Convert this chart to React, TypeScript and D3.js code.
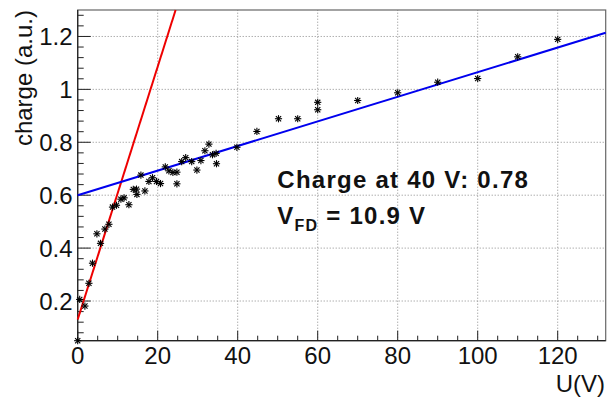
import React from "react";
import * as d3 from "d3";

// ---- data ----
const voltage: number[] = [
  0, 0.5, 1.8, 2.8, 3.7, 4.8, 5.7, 6.8, 7.8, 8.7, 9.7, 10.8, 11.6, 12.8, 13.9,
  14.7, 14.8, 15.8, 16.8, 17.8, 18.7, 19.7, 20.7, 21.9, 22.8, 23.8, 24.8, 24.8,
  26, 27, 28.5, 29.8, 30.8, 31.8, 32.8, 33.7, 34.6, 34.7, 39.8, 44.8, 50.2, 55,
  60, 60, 70, 80, 90, 100, 110, 120,
];
const charge: number[] = [
  0.05, 0.206, 0.181, 0.267, 0.343, 0.454, 0.418, 0.472, 0.49, 0.555, 0.562,
  0.585, 0.59, 0.564, 0.622, 0.623, 0.603, 0.676, 0.616, 0.652, 0.666, 0.652,
  0.644, 0.707, 0.692, 0.686, 0.687, 0.643, 0.727, 0.742, 0.727, 0.695, 0.731,
  0.768, 0.793, 0.753, 0.758, 0.719, 0.781, 0.841, 0.889, 0.889, 0.951, 0.923,
  0.958, 0.987, 1.027, 1.041, 1.123, 1.189,
];
// linear fits
const redFit = { intercept: 0.13, slope: 0.0478 };
const blueFit = { intercept: 0.6, slope: 0.00465 };

const xTicks: number[] = [0, 20, 40, 60, 80, 100, 120];
const yTicks: number[] = [0.2, 0.4, 0.6, 0.8, 1, 1.2];
const xDomain: [number, number] = [0, 132];
const yDomain: [number, number] = [0.05, 1.3];
const xLabel = "U(V)";
const yLabel = "charge (a.u.)";
const textLine1 = "Charge at 40 V: 0.78";
const vfdValue = "10.9";

const W = 608;
const H = 397;
const L = 77.7, R = 605.7, T = 10, B = 340.7;
const FONT = "'Liberation Sans', Arial, Helvetica, sans-serif";

export default function App() {
  const x = d3.scaleLinear().domain(xDomain).range([L, R]);
  const y = d3.scaleLinear().domain(yDomain).range([B, T]);

  const xMinor = d3.range(0, xDomain[1] + 0.001, 5).filter((v) => v % 20 !== 0);
  const yMinor = d3
    .range(0.08, yDomain[1] + 0.001, 0.04)
    .filter((v) => Math.abs(Math.round(v / 0.2) * 0.2 - v) > 0.001);

  const redEnd = (yDomain[1] - redFit.intercept) / redFit.slope;
  const lineGen = d3.line<[number, number]>().x((d) => x(d[0])).y((d) => y(d[1]));
  const redPath = lineGen([
    [0, redFit.intercept],
    [redEnd, yDomain[1]],
  ]);
  const bluePath = lineGen([
    [0, blueFit.intercept],
    [xDomain[1], blueFit.intercept + blueFit.slope * xDomain[1]],
  ]);

  const s = 3.6;
  const d = s * 0.72;

  return (
    <svg
      width={W}
      height={H}
      style={{ position: "absolute", left: 0, top: 0, background: "#fff" }}
      fontFamily={FONT}
    >
      <rect x={0} y={0} width={W} height={H} fill="#fff" />
      {/* grid */}
      <g stroke="#8a8a8a" strokeWidth={1} strokeDasharray="1,2">
        {xTicks.slice(1).map((t) => (
          <line key={"gx" + t} x1={x(t)} x2={x(t)} y1={B} y2={T} />
        ))}
        {yTicks.map((t) => (
          <line key={"gy" + t} x1={L} x2={R} y1={y(t)} y2={y(t)} />
        ))}
      </g>
      {/* frame */}
      <rect x={L} y={T} width={R - L} height={B - T} fill="none" stroke="#666" strokeWidth={1.2} />
      <line x1={L} x2={L} y1={T} y2={B} stroke="#222" strokeWidth={1.2} />
      <line x1={L} x2={R} y1={B} y2={B} stroke="#222" strokeWidth={1.2} />
      {/* ticks */}
      <g stroke="#222" strokeWidth={1}>
        {xTicks.map((t) => (
          <line key={"tx" + t} x1={x(t)} x2={x(t)} y1={B} y2={B - 10} />
        ))}
        {xMinor.map((t) => (
          <line key={"mx" + t} x1={x(t)} x2={x(t)} y1={B} y2={B - 5} />
        ))}
        {yTicks.map((t) => (
          <line key={"ty" + t} x1={L} x2={L + 13} y1={y(t)} y2={y(t)} />
        ))}
        {yMinor.map((t) => (
          <line key={"my" + t} x1={L} x2={L + 6} y1={y(t)} y2={y(t)} />
        ))}
      </g>
      {/* tick labels */}
      <g fontSize={24} fill="#111">
        {xTicks.map((t) => (
          <text key={"lx" + t} x={x(t)} y={364} textAnchor="middle">
            {d3.format("~g")(t)}
          </text>
        ))}
        {yTicks.map((t) => (
          <text key={"ly" + t} x={72.5} y={y(t)} dy="0.36em" textAnchor="end">
            {d3.format("~g")(t)}
          </text>
        ))}
      </g>
      {/* axis titles */}
      <text x={605} y={391.5} fontSize={24} textAnchor="end" fill="#111">
        {xLabel}
      </text>
      <text
        transform={`translate(31.5,10) rotate(-90)`}
        fontSize={24}
        textAnchor="end"
        fill="#111"
      >
        {yLabel}
      </text>
      {/* fits */}
      <path d={redPath ?? ""} stroke="#ee0000" strokeWidth={2} fill="none" />
      <path d={bluePath ?? ""} stroke="#0000ee" strokeWidth={2} fill="none" />
      {/* markers */}
      <g stroke="#000" strokeWidth={1.1}>
        {voltage.map((u, i) => {
          const cx = x(u);
          const cy = y(charge[i]);
          return (
            <g key={"p" + i}>
              <line x1={cx - s} x2={cx + s} y1={cy} y2={cy} />
              <line x1={cx} x2={cx} y1={cy - s} y2={cy + s} />
              <line x1={cx - d} x2={cx + d} y1={cy - d} y2={cy + d} />
              <line x1={cx - d} x2={cx + d} y1={cy + d} y2={cy - d} />
            </g>
          );
        })}
      </g>
      {/* annotation */}
      <g fontWeight="bold" fill="#111" style={{ letterSpacing: "1.25px" }}>
        <text x={277.3} y={188.3} fontSize={24}>
          {textLine1}
        </text>
        <text x={277.3} y={224.3} fontSize={24}>
          V
          <tspan fontSize={16} dy={6.7}>
            FD
          </tspan>
          <tspan dy={-6.7}>{` = ${vfdValue} V`}</tspan>
        </text>
      </g>
    </svg>
  );
}
